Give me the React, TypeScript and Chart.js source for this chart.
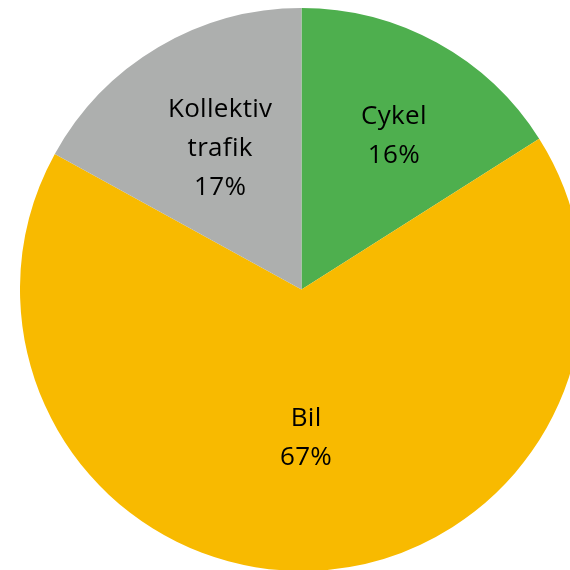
import React, { useEffect, useRef } from "react";
import { Chart, registerables } from "chart.js";

Chart.register(...registerables);

const categories = ["Cykel", "Bil", "Kollektiv trafik"];
const shares = [16, 67, 17];
const colors = ["#4EAF4E", "#F8BA00", "#ADAFAE"];

// label placement per slice: fraction of radius, and angular nudge (degrees)
const labelRadius = [0.643, 0.52, 0.585];
const labelNudge = [1.9, 0, 1.0];

const labelPlugin = {
  id: "sliceLabels",
  afterDatasetsDraw(chart: any) {
    const ctx = chart.ctx;
    const meta = chart.getDatasetMeta(0);
    const fontSize = 26;
    const lineH = 39;
    const capH = 18.5;
    ctx.save();
    ctx.font = `${fontSize}px "Open Sans", Lato, sans-serif`;
    try {
      (ctx as any).letterSpacing = "0.3px";
    } catch (e) {}
    ctx.fillStyle = "#000";
    ctx.textAlign = "center";
    ctx.textBaseline = "alphabetic";
    meta.data.forEach((arc: any, i: number) => {
      const { x, y, startAngle, endAngle, outerRadius } = arc.getProps(
        ["x", "y", "startAngle", "endAngle", "outerRadius"],
        true
      );
      const mid = (startAngle + endAngle) / 2 + (labelNudge[i] * Math.PI) / 180;
      const r = outerRadius * labelRadius[i];
      const cx = x + Math.cos(mid) * r;
      const cy = y + Math.sin(mid) * r;
      const lines = [...categories[i].split(" "), `${shares[i]}%`];
      const blockH = capH + (lines.length - 1) * lineH;
      const first = cy - blockH / 2 + capH;
      lines.forEach((t, k) => ctx.fillText(t, cx, first + k * lineH));
    });
    ctx.restore();
  },
};

export default function App() {
  const ref = useRef<HTMLCanvasElement>(null);
  useEffect(() => {
    if (!ref.current) return;
    const chart = new Chart(ref.current, {
      type: "pie",
      data: {
        labels: categories,
        datasets: [
          {
            data: shares,
            backgroundColor: colors,
            borderWidth: 0,
            hoverOffset: 0,
          },
        ],
      },
      options: {
        responsive: false,
        animation: false,
        layout: { padding: 0 },
        plugins: {
          legend: { display: false },
          tooltip: { enabled: false },
        },
      },
      plugins: [labelPlugin],
    });
    return () => chart.destroy();
  }, []);
  return (
    <div
      style={{
        position: "fixed",
        left: 0,
        top: 0,
        width: 570,
        height: 570,
        overflow: "hidden",
        background: "#fff",
      }}
    >
      <canvas
        ref={ref}
        width={563}
        height={563}
        style={{ position: "absolute", left: 20, top: 8, width: 563, height: 563 }}
      />
    </div>
  );
}
